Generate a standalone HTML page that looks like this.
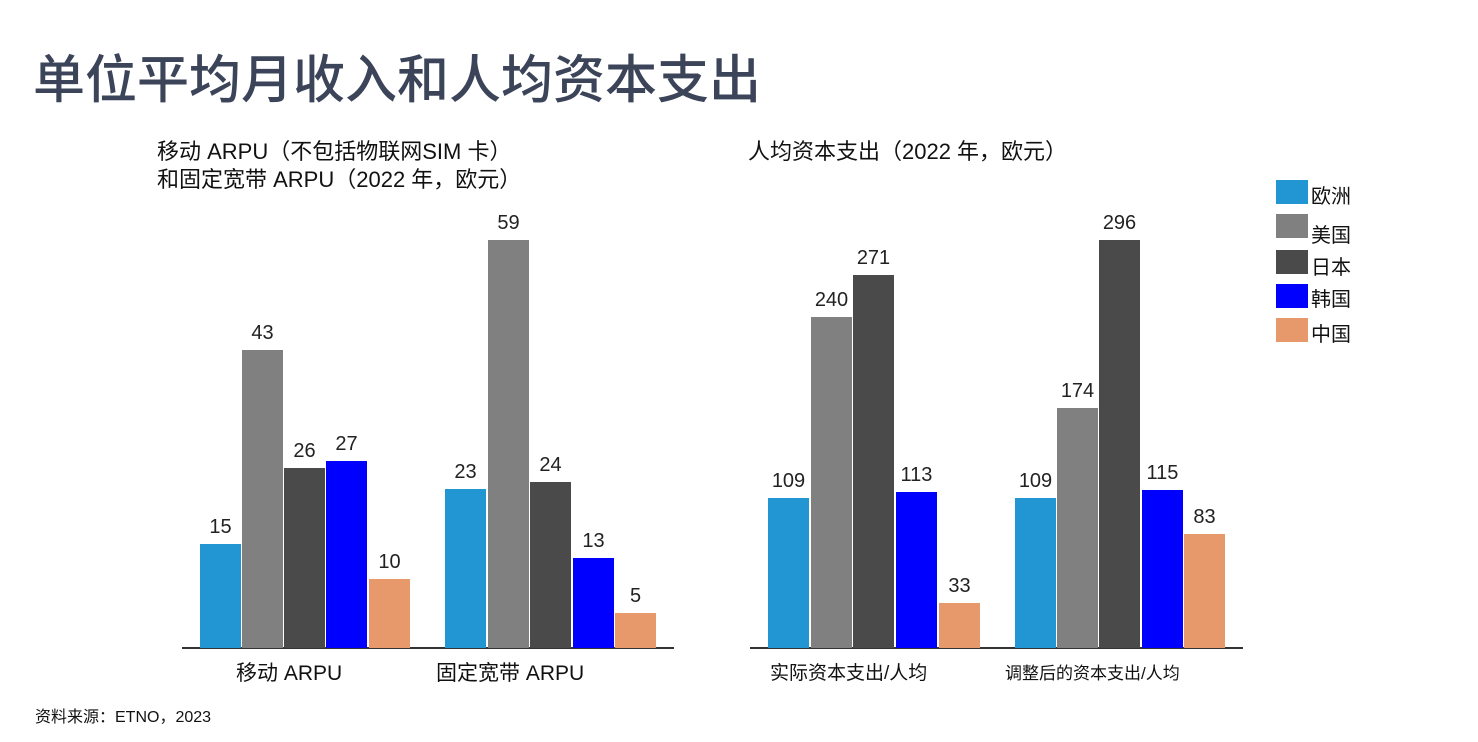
<!DOCTYPE html>
<html><head><meta charset="utf-8"><style>
body{margin:0;width:1478px;height:742px;background:#fff;overflow:hidden;position:relative;font-family:"Liberation Sans","Noto Sans CJK SC",sans-serif;color:#111}
.a{position:absolute;white-space:nowrap}
.b{position:absolute}
.v{position:absolute;width:60px;text-align:center;font-size:20px;color:#222}
</style></head><body>
<div class="a" style="left:33px;top:38px;font-size:52px;color:#3b4458;font-weight:500">单位平均月收入和人均资本支出</div>
<div class="a" style="left:157px;top:138px;font-size:22px;line-height:28px">移动 ARPU（不包括物联网SIM 卡）<br>和固定宽带 ARPU（2022 年，欧元）</div>
<div class="a" style="left:748px;top:134px;font-size:22px">人均资本支出（2022 年，欧元）</div>
<div class="b" style="left:182px;top:647px;width:492px;height:2px;background:#333"></div>
<div class="b" style="left:750px;top:647px;width:493px;height:2px;background:#333"></div>
<div id="bars"></div>
<div class="a" style="left:236px;top:657px;font-size:21px">移动 ARPU</div>
<div class="a" style="left:436px;top:657px;font-size:21px">固定宽带 ARPU</div>
<div class="a" style="left:770px;top:658px;font-size:19px">实际资本支出/人均</div>
<div class="a" style="left:1005px;top:659px;font-size:17px">调整后的资本支出/人均</div>
<div class="a" style="left:35px;top:703px;font-size:16px">资料来源：ETNO，2023</div>
<div class="b" style="left:1276px;top:180px;width:32px;height:24px;background:#2196d3"></div><div class="a" style="left:1311px;top:180px;font-size:20px">欧洲</div>
<div class="b" style="left:1276px;top:214px;width:32px;height:24px;background:#808080"></div><div class="a" style="left:1311px;top:219px;font-size:20px">美国</div>
<div class="b" style="left:1276px;top:250px;width:32px;height:24px;background:#4a4a4a"></div><div class="a" style="left:1311px;top:251px;font-size:20px">日本</div>
<div class="b" style="left:1276px;top:284px;width:32px;height:24px;background:#0000ff"></div><div class="a" style="left:1311px;top:283px;font-size:20px">韩国</div>
<div class="b" style="left:1276px;top:318px;width:32px;height:24px;background:#e8996b"></div><div class="a" style="left:1311px;top:318px;font-size:20px">中国</div>
<script>
var C=["#2196d3","#808080","#4a4a4a","#0000ff","#e8996b"];
var D=[[200,15,6.92,0],[242,43,6.92,1],[284,26,6.92,2],[326,27,6.92,3],[369,10,6.92,4],
[445,23,6.92,0],[488,59,6.92,1],[530,24,6.92,2],[573,13,6.92,3],[615,5,6.92,4],
[768,109,1.378,0],[811,240,1.378,1],[853,271,1.378,2],[896,113,1.378,3],[939,33,1.378,4],
[1015,109,1.378,0],[1057,174,1.378,1],[1099,296,1.378,2],[1142,115,1.378,3],[1184,83,1.378,4]];
var h="";D.forEach(function(d){var t=648-d[1]*d[2];
h+='<div class="b" style="left:'+d[0]+'px;top:'+t+'px;width:41px;height:'+(648-t)+'px;background:'+C[d[3]]+'"></div>';
h+='<div class="v" style="left:'+(d[0]-9.5)+'px;top:'+(t-28)+'px">'+d[1]+'</div>';});
document.getElementById("bars").innerHTML=h;
</script>
</body></html>
